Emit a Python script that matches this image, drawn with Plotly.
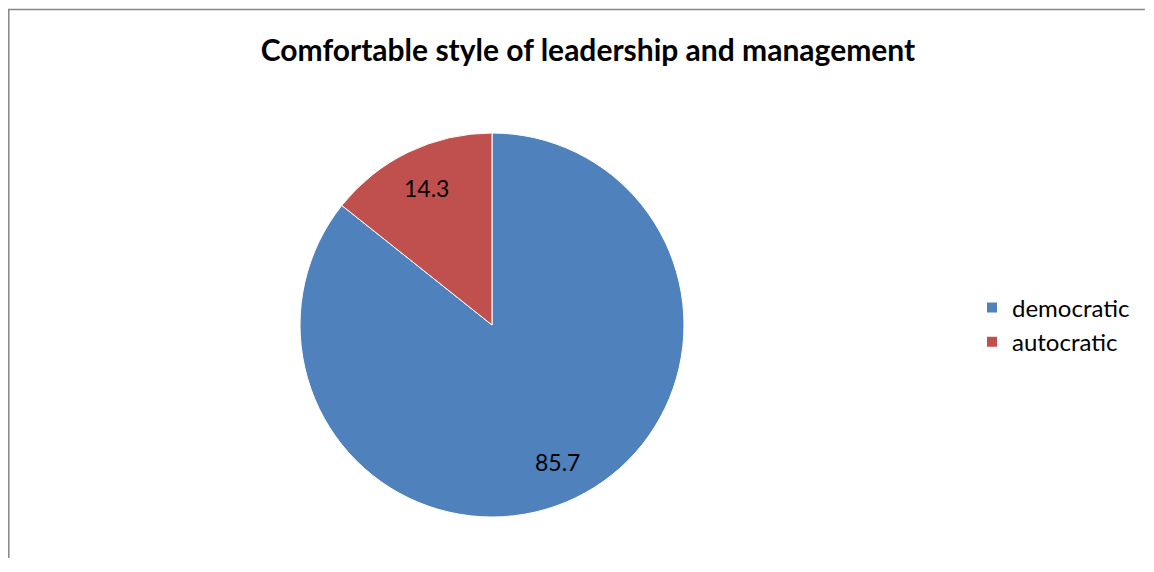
import math
import plotly.graph_objects as go

labels = ["democratic", "autocratic"]
values = [85.7, 14.3]
colors = ["#4F81BD", "#C0504D"]
title_text = "Comfortable style of leadership and management"

# page has 8px body margin, so the figure is smaller than the window
OFF = 8
W, H = 1154 - 2 * OFF, 572 - 2 * OFF - 6

# pie geometry in page pixels
CX, CY, R = 492, 325, 192

def px(x):
    return (x - OFF) / W

def py(y):
    return 1 - (y - OFF) / H

FONT = "Lato, Open Sans, sans-serif"

fig = go.Figure(go.Pie(
    labels=labels,
    values=values,
    marker=dict(colors=colors, line=dict(color="#FFFFFF", width=1)),
    sort=False,
    direction="clockwise",
    rotation=0,
    textinfo="none",
    domain=dict(x=[px(CX - R), px(CX + R)], y=[py(CY + R), py(CY - R)]),
    hoverinfo="label+value",
))

# data labels placed on each slice's bisector, like the original
annotations = []
total = sum(values)
cum = 0.0
for lab, v in zip(labels, values):
    mid = (cum + v / 2) / total * 2 * math.pi
    cum += v
    d = 0.79 * R
    x = CX + d * math.sin(mid)
    y = CY - d * math.cos(mid)
    annotations.append(dict(text=f"{v}", x=px(x), y=py(y), xref="paper", yref="paper",
                            showarrow=False, xanchor="center", yanchor="middle",
                            font=dict(family=FONT, size=23, color="#000000")))

fig.update_layout(
    width=W, height=H,
    margin=dict(l=0, r=0, t=0, b=0),
    paper_bgcolor="#FFFFFF",
    plot_bgcolor="#FFFFFF",
    title=dict(text="<b>" + title_text + "</b>", x=px(588), xanchor="center",
               y=py(50), yanchor="middle",
               font=dict(family=FONT, size=30, color="#000000")),
    legend=dict(x=px(972), xanchor="left", y=py(325), yanchor="middle",
                font=dict(family=FONT, size=24, color="#000000"),
                itemsizing="constant"),
    annotations=annotations,
    shapes=[
        dict(type="line", xref="paper", yref="paper", x0=0, x1=0.999, y0=py(9.5), y1=py(9.5),
             line=dict(color="#868686", width=1.5)),
        dict(type="line", xref="paper", yref="paper", x0=0.0007, x1=0.0007, y0=0, y1=py(9.5),
             line=dict(color="#868686", width=1.5)),
    ],
)

fig.write_html("out.html")
